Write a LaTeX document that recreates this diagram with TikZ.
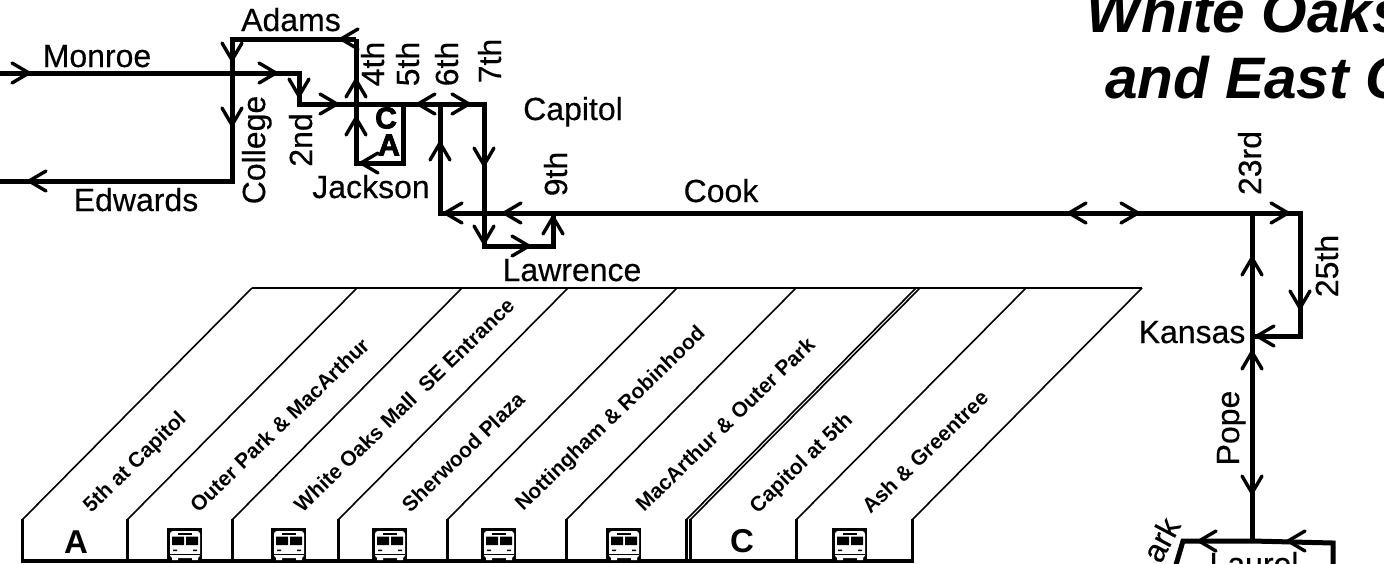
\documentclass[tikz,border=0pt]{standalone}
\usepackage{xcolor}
\usepackage{fontspec}
\setmainfont{Liberation Sans}
\newfontfamily\streetfont[FakeBold=0.35]{Liberation Sans}
\newfontfamily\heavyfont{Liberation Sans}[BoldFeatures={FakeBold=3}]
\usetikzlibrary{positioning}
\tikzset{
  roadline/.style={line width=5pt, line cap=butt, line join=miter},
  tipline/.style={line width=3.4pt, line cap=round, line join=miter},
  street/.style={anchor=base, inner sep=0pt, font=\streetfont\fontsize{32}{36}\selectfont},
  streetup/.style={street, rotate=90},
  stoplabel/.style={anchor=center, inner sep=0pt, rotate=44, font=\fontsize{21}{24}\selectfont\bfseries},
  stopletter/.style={anchor=center, inner sep=0pt, font=\fontsize{33}{36}\selectfont\bfseries},
  headline/.style={anchor=base west, inner sep=0pt, font=\fontsize{58.5}{64}\selectfont\bfseries\itshape},
  busicon/.pic={
    \fill[black] (0,0) rectangle (35,33);
    \fill[white, rounded corners=3pt] (3,3) rectangle (33,30);
    \fill[white] (5,29) rectangle (11,32) (25,29) rectangle (31,32);
    \fill[black] (11,4.5) rectangle (25,6.5);
    \fill[black] (5,8.5) rectangle (17,17) (19,8.5) rectangle (31,17);
    \fill[black] (6,21.5) rectangle (10,23) (26,21.5) rectangle (30,23);
    \fill[black] (3,26) rectangle (33,27);
  }
}
\begin{document}
\begin{tikzpicture}[x=1pt, y=-1pt]
  \useasboundingbox (0,0) rectangle (1384,563);
  \clip (0,0) rectangle (1384,563);

  \coordinate (monroeW) at (0,73);
  \coordinate (monroeE) at (299,73);
  \coordinate (secondS) at (299,104);
  \coordinate (seventhN) at (484,104);
  \coordinate (seventhS) at (484,246);
  \coordinate (ninthS) at (553,246);
  \coordinate (ninthN) at (553,213);
  \coordinate (adamsW) at (232,39);
  \coordinate (adamsE) at (356,39);
  \coordinate (edwardsE) at (232,181);
  \coordinate (edwardsW) at (0,181);
  \coordinate (jacksonW) at (356,163);
  \coordinate (jacksonE) at (403,163);
  \coordinate (fifthN) at (403,104);
  \coordinate (sixthN) at (440,104);
  \coordinate (sixthS) at (440,213);
  \coordinate (cookE) at (1300,213);
  \coordinate (popeN) at (1252,213);
  \coordinate (kansasE) at (1300,336);
  \coordinate (kansasW) at (1252,336);
  \coordinate (popeS) at (1252,541);
  \coordinate (laurelW) at (1183,541);
  \coordinate (laurelE) at (1333,543);
  \coordinate (parkS) at (1175,568);
  \coordinate (farS) at (1333,568);

  \draw[roadline] (monroeW) -- (monroeE) -- (secondS) -- (seventhN) -- (seventhS) -- (ninthS) -- (ninthN);
  \draw[roadline] (adamsE) -- (adamsW) -- (edwardsE) -- (edwardsW);
  \draw[roadline] (adamsE) -- (jacksonW) -- (jacksonE) -- (fifthN);
  \draw[roadline] (sixthN) -- (sixthS) -- (cookE) -- (kansasE) -- (kansasW);
  \draw[roadline] (popeN) -- (popeS);
  \draw[roadline] (parkS) -- (laurelW) -- (popeS) -- (laurelE) -- (farS);

  \foreach \x/\y in {29/73, 276/73, 337/104, 469/104, 529/246, 1138/213, 1288/213}
    \draw[tipline] (\x-17,\y-10) -- (\x,\y) -- (\x-17,\y+10);
  \foreach \x/\y in {341/39, 29/181, 361/163, 418/104, 445/213, 504/213, 1069/213, 1257/336, 1199/541, 1288/541}
    \draw[tipline] (\x+17,\y-10) -- (\x,\y) -- (\x+17,\y+10);
  \foreach \x/\y in {232/60, 232/125, 299/96, 484/165, 484/243, 1300/308, 1252/493}
    \draw[tipline] (\x-10,\y-17) -- (\x,\y) -- (\x+10,\y-17);
  \foreach \x/\y in {356/80, 356/118, 440/143, 553/217, 1252/258, 1252/352}
    \draw[tipline] (\x-10,\y+17) -- (\x,\y) -- (\x+10,\y+17);

  \node[street] (adams) at (291,31) {Adams};
  \node[street] (monroe) at (97,67) {Monroe};
  \node[street] (edwards) at (136,211) {Edwards};
  \node[street] (capitol) at (573,120) {Capitol};
  \node[street] (jackson) at (371,198) {Jackson};
  \node[street] (lawrence) at (572,281) {Lawrence};
  \node[street] (cook) at (721,202) {Cook};
  \node[street] (kansas) at (1192,343) {Kansas};
  \node[street] (laurel) at (1254,575) {Laurel};
  \node[streetup] (college) at (265,150) {College};
  \node[streetup] (second) at (312,140) {2nd};
  \node[streetup] (fourth) at (384,64) {4th};
  \node[streetup] (fifth) at (419,64) {5th};
  \node[streetup] (sixth) at (458,64) {6th};
  \node[streetup] (seventh) at (501,61) {7th};
  \node[streetup] (ninth) at (567,174) {9th};
  \node[streetup] (twentythird) at (1261,163) {23rd};
  \node[streetup] (twentyfifth) at (1338,266) {25th};
  \node[streetup] (pope) at (1239,428) {Pope};
  \node[streetup] (farroad) at (1372,570) {r};
  \node[street, rotate=62] (park) at (1171,545) {ark};

  \node[stopletter, font=\heavyfont\fontsize{30}{32}\selectfont\bfseries] (capc) at (386,118) {C};
  \node[stopletter, font=\heavyfont\fontsize{30}{32}\selectfont\bfseries] (capa) at (389,145) {A};

  \node[headline] (titleone) at (1086,32) {White Oaks};
  \node[headline] (titletwo) at (1105,98) {and East C};

  \draw[line width=1.6pt] (252,288) -- (1142,288);
  \foreach \x in {22,127,232,338,447,566,686,690,796,912} {
    \draw[line width=1.6pt] (\x,520) -- (\x+230,288);
    \draw[line width=3pt] (\x,519) -- (\x,561);
  }
  \draw[line width=4pt] (20.5,561) -- (913.5,561);

  \foreach \x in {167,271,372,481,606,832}
    \pic at (\x,528) {busicon};

  \node[stopletter] (stopa) at (76,542) {A};
  \node[stopletter] (stopc) at (742,541) {C};

  \node[stoplabel] (labela) at (135.5,463) {5th at Capitol};
  \node[stoplabel] (labelb) at (279.5,425) {Outer Park \& MacArthur};
  \node[stoplabel] (labelc) at (404,405) {White Oaks Mall\ \ SE Entrance};
  \node[stoplabel] (labeld) at (463,452) {Sherwood Plaza};
  \node[stoplabel] (labele) at (611,419.5) {Nottingham \& Robinhood};
  \node[stoplabel] (labelf) at (725,424) {MacArthur \& Outer Park};
  \node[stoplabel] (labelg) at (802,464) {Capitol at 5th};
  \node[stoplabel] (labelh) at (925,452) {Ash \& Greentree};
\end{tikzpicture}
\end{document}
